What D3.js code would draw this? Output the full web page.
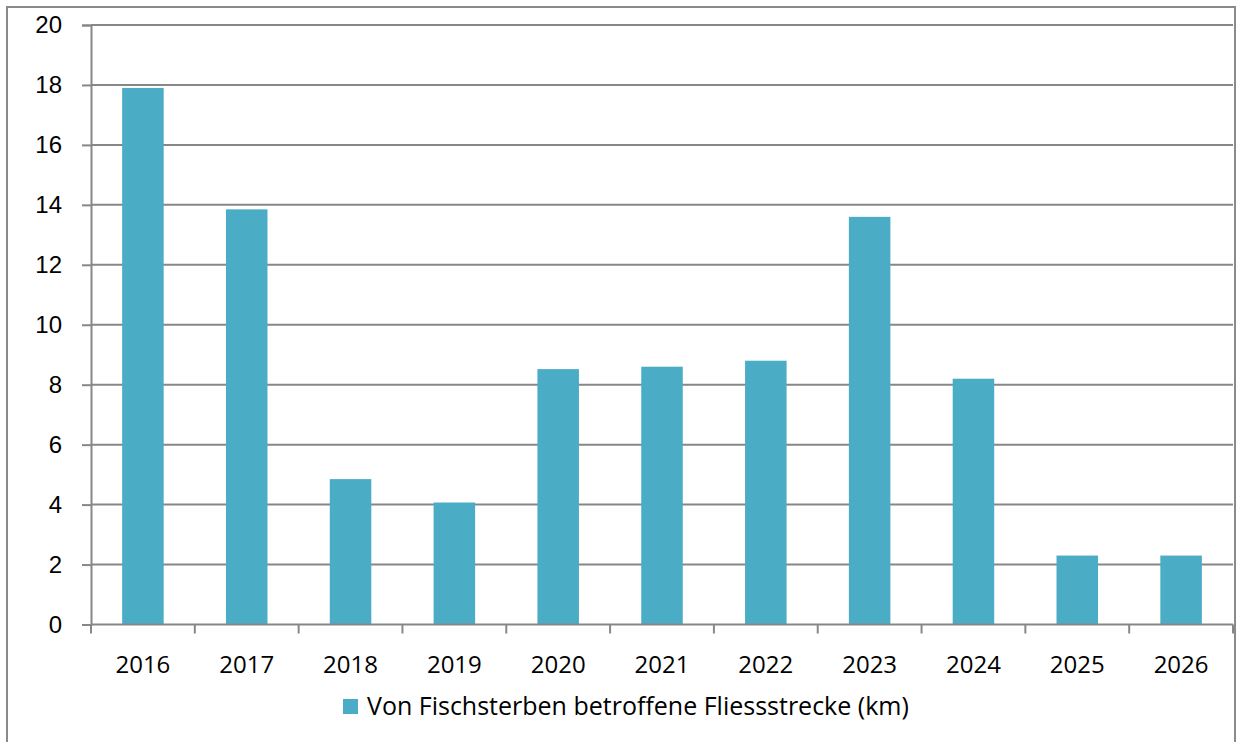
<!DOCTYPE html>
<html>
<head>
<meta charset="utf-8">
<script src="https://cdn.jsdelivr.net/npm/d3@7"></script>
<style>
  html, body { margin: 0; padding: 0; background: #fff; }
  svg { display: block; font-family: "Open Sans", "Noto Sans", sans-serif; }
</style>
</head>
<body>
<main></main>
<script>
const years = ['2016', '2017', '2018', '2019', '2020', '2021', '2022', '2023', '2024', '2025', '2026'];
const km = [17.9, 13.85, 4.85, 4.07, 8.52, 8.6, 8.8, 13.6, 8.2, 2.3, 2.3];
const yTicks = [0, 2, 4, 6, 8, 10, 12, 14, 16, 18, 20];
const seriesName = 'Von Fischsterben betroffene Fliessstrecke (km)';

const width = 1238;
const height = 742;
const margin = {top: 25, right: 5, bottom: 117, left: 91};
const gridColor = '#878787';
const barColor = '#4bacc6';

const svg = d3.select('main')
  .append('svg')
  .attr('width', width)
  .attr('height', height);

// outer chart frame
svg.append('rect')
  .attr('x', 7).attr('y', 7)
  .attr('width', 1228).attr('height', 760)
  .attr('fill', 'none')
  .attr('stroke', '#8a8a8a')
  .attr('stroke-width', 2);

const x = d3.scaleBand()
  .domain(years)
  .range([margin.left, width - margin.right])
  .paddingInner(0.6)
  .paddingOuter(0.3);

const y = d3.scaleLinear()
  .domain([0, 20])
  .range([height - margin.bottom - 0.5, margin.top]);

// horizontal gridlines
svg.append('g')
  .selectAll('line')
  .data(yTicks.filter(t => t > 0))
  .enter()
  .append('line')
  .attr('x1', margin.left)
  .attr('x2', width - margin.right)
  .attr('y1', d => y(d))
  .attr('y2', d => y(d))
  .style('stroke', gridColor)
  .style('stroke-width', 2);

// bars
svg.append('g')
  .selectAll('rect')
  .data(years)
  .enter()
  .append('rect')
  .attr('x', d => x(d))
  .attr('width', x.bandwidth())
  .attr('y', (d, i) => y(km[i]))
  .attr('height', (d, i) => y(0) - y(km[i]))
  .style('fill', barColor);

// y axis
const yAxis = svg.append('g')
  .attr('transform', `translate(${margin.left},0)`)
  .call(d3.axisLeft(y).tickValues(yTicks).tickSize(9).tickPadding(20));
yAxis.select('.domain').style('stroke', gridColor).style('stroke-width', 2);
yAxis.selectAll('.tick line').style('stroke', gridColor).style('stroke-width', 2);
yAxis.selectAll('text').style('font-size', '24px').style('fill', '#000');

// x axis, ticks on category boundaries
const bounds = years.map((d, i) => margin.left + i * (width - margin.right - margin.left) / years.length)
  .concat([width - margin.right]);
const xAxis = svg.append('g').attr('transform', `translate(0,${y(0)})`);
xAxis.append('line')
  .attr('x1', margin.left).attr('x2', width - margin.right)
  .style('stroke', gridColor).style('stroke-width', 2);
xAxis.selectAll('line.tk')
  .data(bounds)
  .enter()
  .append('line')
  .attr('class', 'tk')
  .attr('x1', d => d).attr('x2', d => d)
  .attr('y1', 0).attr('y2', 9)
  .style('stroke', gridColor).style('stroke-width', 2);
xAxis.selectAll('text')
  .data(years)
  .enter()
  .append('text')
  .attr('x', d => x(d) + x.bandwidth() / 2)
  .attr('y', 48)
  .attr('text-anchor', 'middle')
  .style('font-size', '24px')
  .style('fill', '#000')
  .text(d => d);

// legend
const legend = svg.append('g').attr('transform', 'translate(343,699)');
legend.append('rect')
  .attr('width', 15).attr('height', 15)
  .style('fill', barColor);
legend.append('text')
  .attr('x', 24).attr('y', 16)
  .style('font-size', '25px')
  .style('fill', '#000')
  .text(seriesName);
</script>
</body>
</html>
